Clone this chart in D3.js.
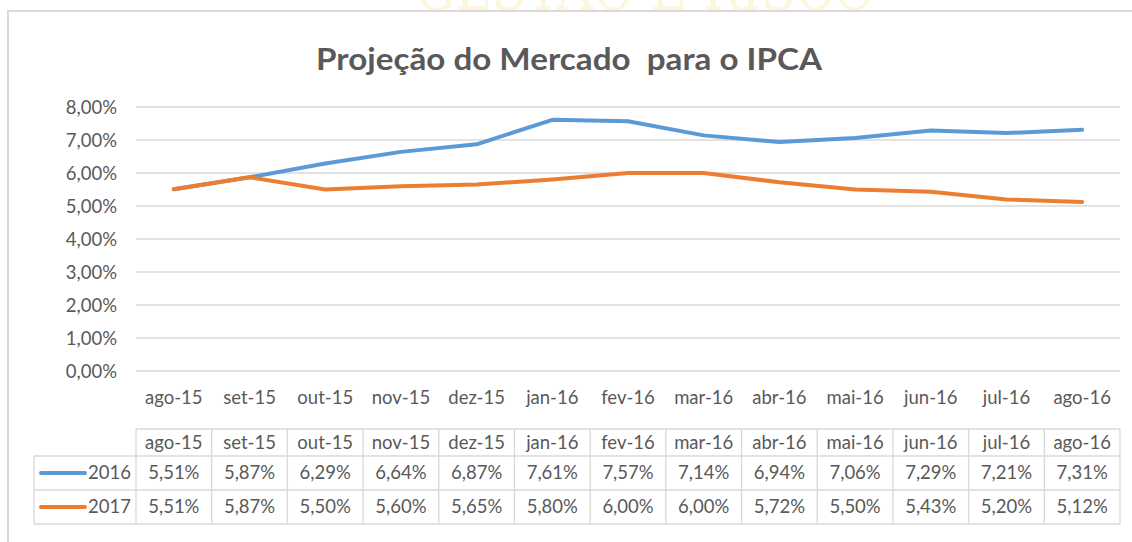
<!DOCTYPE html>
<html>
<head>
<meta charset="utf-8">
<script src="https://cdn.jsdelivr.net/npm/d3@7"></script>
<style>
  body { margin: 0; background: #fff; }
  svg { display: block; }
  text { font-family: Lato, "Open Sans", sans-serif; fill: #595959; }
</style>
</head>
<body>
<svg width="1132" height="542"></svg>
<script>
"use strict"

const months = ["ago-15", "set-15", "out-15", "nov-15", "dez-15", "jan-16", "fev-16",
                "mar-16", "abr-16", "mai-16", "jun-16", "jul-16", "ago-16"]
const ipca2016 = [5.51, 5.87, 6.29, 6.64, 6.87, 7.61, 7.57, 7.14, 6.94, 7.06, 7.29, 7.21, 7.31]
const ipca2017 = [5.51, 5.87, 5.50, 5.60, 5.65, 5.80, 6.00, 6.00, 5.72, 5.50, 5.43, 5.20, 5.12]
const seriesNames = ["2016", "2017"]
const yTicks = [0, 1, 2, 3, 4, 5, 6, 7, 8]
const title = "Projeção do Mercado  para o IPCA"

const colors = ["#5b9bd5", "#ed7d31"]
const series = [ipca2016, ipca2017]
const fontSize = "18.5px"

const svg = d3.select("svg")

// área do gráfico
const area = { left: 136, right: 1120, top: 107, bottom: 371 }

const fmt = v => v.toFixed(2).replace(".", ",") + "%"

// marca d'água (só a parte de baixo aparece acima da moldura)
svg.append("clipPath").attr("id", "wm")
    .append("rect").attr("x", 0).attr("y", 0).attr("width", 1132).attr("height", 11)
svg.append("text")
    .attr("clip-path", "url(#wm)")
    .attr("x", 645).attr("y", 10)
    .attr("text-anchor", "middle")
    .attr("textLength", 460)
    .attr("lengthAdjust", "spacingAndGlyphs")
    .style("font-family", "'DejaVu Serif', serif")
    .style("font-size", "62px")
    .style("fill", "#fdf5dc")
    .text("GESTÃO E RISCO")

// moldura do gráfico
svg.append("path")
    .attr("d", "M8,542 L8,11 L1140,11")
    .style("fill", "none")
    .style("stroke", "#d9d9d9")
    .style("stroke-width", 2)

// título
svg.append("text")
    .attr("x", 569).attr("y", 70)
    .attr("text-anchor", "middle")
    .attr("textLength", 506)
    .attr("lengthAdjust", "spacingAndGlyphs")
    .style("font-size", "31px")
    .style("font-weight", "bold")
    .style("white-space", "pre")
    .text(title)

const scaleX = d3.scaleBand()
    .domain(months)
    .range([area.left, area.right])

const scaleY = d3.scaleLinear()
    .domain([0, 8])
    .range([area.bottom, area.top])

// grade horizontal
svg.append("g")
    .selectAll("line")
    .data(yTicks)
    .enter()
    .append("line")
    .attr("x1", area.left).attr("x2", area.right)
    .attr("y1", d => scaleY(d)).attr("y2", d => scaleY(d))
    .style("stroke", "#d9d9d9")
    .style("stroke-width", 1.3)

// eixo Y
const axisY = d3.axisLeft(scaleY)
    .tickValues(yTicks)
    .tickFormat(fmt)
    .tickSize(0)
    .tickPadding(19)
const gY = svg.append("g")
    .attr("transform", `translate(${area.left}, 0)`)
    .call(axisY)
gY.select(".domain").remove()
gY.selectAll("text")
    .style("font-family", null)
    .style("font-size", fontSize)
    .attr("dy", "0.35em")

// eixo X
const axisX = d3.axisBottom(scaleX).tickSize(0).tickPadding(20)
const gX = svg.append("g")
    .attr("transform", `translate(0, ${area.bottom})`)
    .call(axisX)
gX.select(".domain").remove()
gX.selectAll("text")
    .style("font-family", null)
    .style("font-size", fontSize)

// linhas
const line = d3.line()
    .x((d, i) => scaleX(months[i]) + scaleX.bandwidth() / 2)
    .y(d => scaleY(d))

series.forEach((s, k) => {
    svg.append("path")
        .datum(s)
        .attr("d", line)
        .style("fill", "none")
        .style("stroke", colors[k])
        .style("stroke-width", 4)
        .style("stroke-linecap", "round")
        .style("stroke-linejoin", "round")
})

// tabela de dados
const rows = [429, 456, 490, 524]
const tbl = svg.append("g")
const gridColor = "#d9d9d9"

// linhas horizontais da tabela
tbl.append("line")
    .attr("x1", area.left).attr("x2", area.right)
    .attr("y1", rows[0]).attr("y2", rows[0])
    .style("stroke", gridColor).style("stroke-width", 1.3)
rows.slice(1).forEach(y => {
    tbl.append("line")
        .attr("x1", 34).attr("x2", area.right)
        .attr("y1", y).attr("y2", y)
        .style("stroke", gridColor).style("stroke-width", 1.3)
})
// linhas verticais
const colEdges = months.map(m => scaleX(m)).concat([area.right])
colEdges.forEach(x => {
    tbl.append("line")
        .attr("x1", x).attr("x2", x)
        .attr("y1", rows[0]).attr("y2", rows[3])
        .style("stroke", gridColor).style("stroke-width", 1.3)
})
tbl.append("line")
    .attr("x1", 34).attr("x2", 34)
    .attr("y1", rows[1]).attr("y2", rows[3])
    .style("stroke", gridColor).style("stroke-width", 1.3)

// cabeçalho
tbl.selectAll(".hdr")
    .data(months)
    .enter()
    .append("text")
    .attr("class", "hdr")
    .attr("x", d => scaleX(d) + scaleX.bandwidth() / 2)
    .attr("y", (rows[0] + rows[1]) / 2)
    .attr("dy", "0.35em")
    .attr("text-anchor", "middle")
    .style("font-size", fontSize)
    .text(d => d)

series.forEach((s, k) => {
    const yc = (rows[k + 1] + rows[k + 2]) / 2
    tbl.append("line")
        .attr("x1", 41).attr("x2", 85)
        .attr("y1", yc).attr("y2", yc)
        .style("stroke", colors[k])
        .style("stroke-width", 4)
        .style("stroke-linecap", "round")
    tbl.append("text")
        .attr("x", 131).attr("y", yc)
        .attr("dy", "0.35em")
        .attr("text-anchor", "end")
        .style("font-size", fontSize)
        .text(seriesNames[k])
    tbl.selectAll(`.val-${k}`)
        .data(s)
        .enter()
        .append("text")
        .attr("class", `val-${k}`)
        .attr("x", (d, i) => scaleX(months[i]) + scaleX.bandwidth() / 2)
        .attr("y", yc)
        .attr("dy", "0.35em")
        .attr("text-anchor", "middle")
        .style("font-size", fontSize)
        .text(fmt)
})
</script>
</body>
</html>
